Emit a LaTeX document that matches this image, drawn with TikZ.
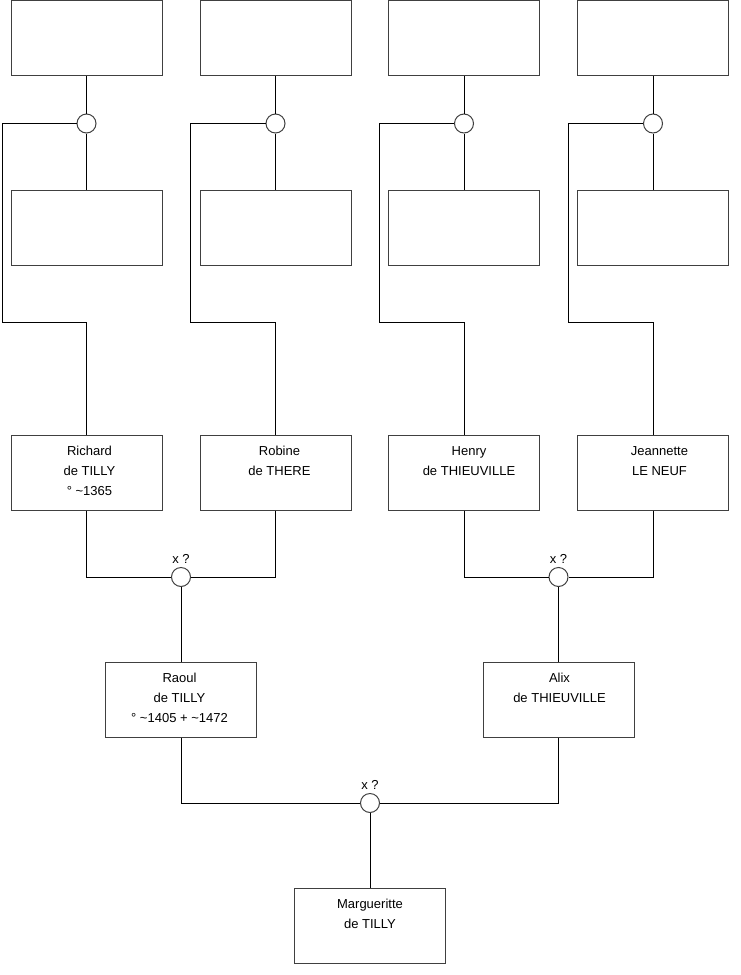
\documentclass[tikz,border=0pt]{standalone}
\usepackage{fontspec}
\setmainfont{Liberation Sans}
\begin{document}
\begin{tikzpicture}[x=1pt,y=-1pt,
  person/.style={draw=black!75,line width=1pt,minimum width=151pt,minimum height=75pt,inner sep=0pt,fill=white},
  union/.style={draw=black!75,line width=1pt,circle,minimum size=19pt,inner sep=0pt,fill=white},
  link/.style={draw=black,line width=1pt},
  txt/.style={font=\fontsize{13}{20}\selectfont,align=center,inner sep=0pt,anchor=north},
  marr/.style={font=\fontsize{13}{16}\selectfont,inner sep=0pt,anchor=base}]
\useasboundingbox (0,0) rectangle (740,975);
% top generation boxes and circles
\foreach \i/\x/\l in {1/86.5/2,2/275.5/190.5,3/464/379.5,4/653/568.5}{
  \node[person] (t\i) at (\x,38) {};
  \node[person] (s\i) at (\x,227.5) {};
  \node[union] (u\i) at (\x,123.5) {};
  \coordinate (a\i) at (\l,123.5);
  \coordinate (b\i) at (\l,322);
}
% third generation
\node[person] (richard) at (86.5,472.5) {};
\node[person] (robine) at (275.5,472.5) {};
\node[person] (henry) at (464,472.5) {};
\node[person] (jeannette) at (653,472.5) {};
\node[union] (m1) at (181,577) {};
\node[union] (m2) at (558.5,577) {};
\node[person] (raoul) at (181,699.5) {};
\node[person] (alix) at (558.5,699.5) {};
\node[union] (m3) at (370,803) {};
\node[person] (marg) at (370,925.5) {};
% connectors top
\foreach \i/\p in {1/richard,2/robine,3/henry,4/jeannette}{
  \draw[link] (t\i.south) -- (u\i.north);
  \draw[link] (u\i.south) -- (s\i.north);
  \draw[link] (u\i.west) -- (a\i) -- (b\i) -- (b\i -| \p.north) -- (\p.north);
}
\draw[link] (richard.south) -- (richard.south |- m1) -- (m1.west);
\draw[link] (robine.south) -- (robine.south |- m1) -- (m1.east);
\draw[link] (m1.south) -- (raoul.north);
\draw[link] (henry.south) -- (henry.south |- m2) -- (m2.west);
\draw[link] (jeannette.south) -- (jeannette.south |- m2) -- (m2.east);
\draw[link] (m2.south) -- (alix.north);
\draw[link] (raoul.south) -- (raoul.south |- m3) -- (m3.west);
\draw[link] (alix.south) -- (alix.south |- m3) -- (m3.east);
\draw[link] (m3.south) -- (marg.north);
% texts
\node[txt] (trichard) at ([yshift=-11.5pt,xshift=3pt]richard.north) {Richard\\de TILLY\\° \textasciitilde1365};
\node[txt] (trobine) at ([yshift=-11.5pt,xshift=4pt]robine.north) {Robine\\de THERE};
\node[txt] (thenry) at ([yshift=-11.5pt,xshift=5pt]henry.north) {Henry\\de THIEUVILLE};
\node[txt] (tjeannette) at ([yshift=-11.5pt,xshift=6.5pt]jeannette.north) {Jeannette\\LE NEUF};
\node[txt] (traoul) at ([yshift=-11.5pt,xshift=-1.5pt]raoul.north) {Raoul\\de TILLY\\° \textasciitilde1405 + \textasciitilde1472};
\node[txt] (talix) at ([yshift=-11.5pt,xshift=1pt]alix.north) {Alix\\de THIEUVILLE};
\node[txt] (tmarg) at ([yshift=-11.5pt]marg.north) {Margueritte\\de TILLY};
\node[marr] (x1) at ([yshift=14pt]m1.center) {x ?};
\node[marr] (x2) at ([yshift=14pt]m2.center) {x ?};
\node[marr] (x3) at ([yshift=14pt]m3.center) {x ?};
\end{tikzpicture}
\end{document}
